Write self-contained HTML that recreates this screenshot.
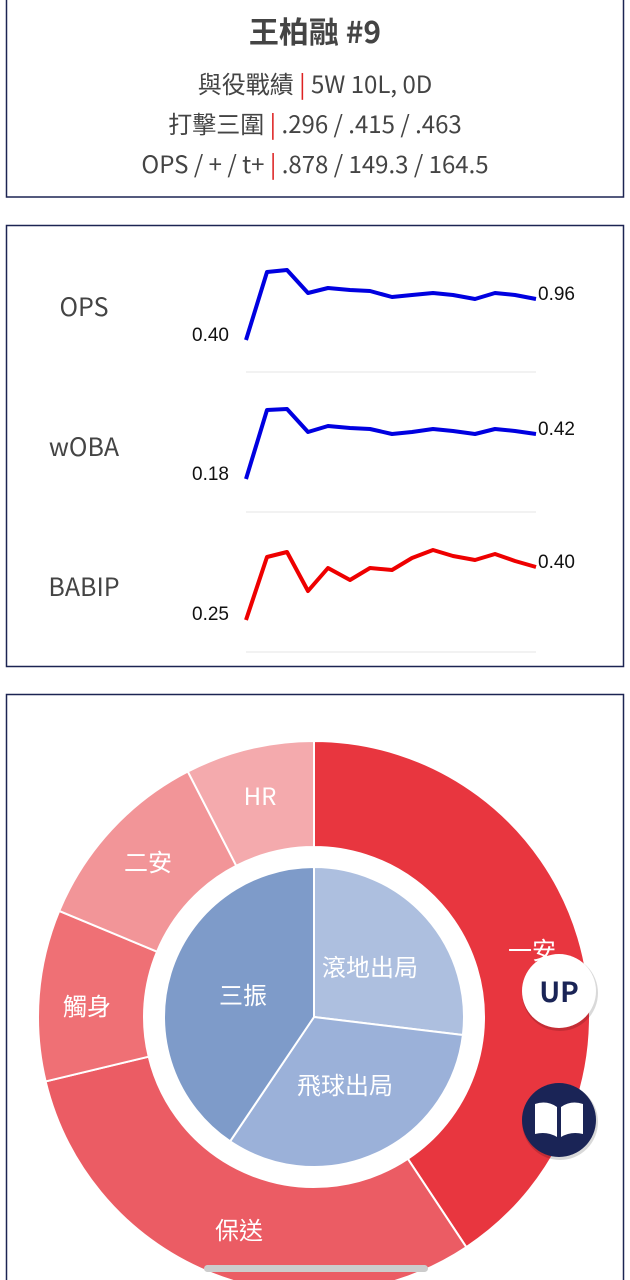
<!DOCTYPE html>
<html><head><meta charset="utf-8"><style>
body{margin:0;width:630px;height:1280px;overflow:hidden;background:#fff;font-family:"Noto Sans CJK TC","Liberation Sans",sans-serif;}
svg{position:absolute;left:0;top:0}
</style></head><body>
<svg width="630" height="1280" viewBox="0 0 630 1280" xmlns="http://www.w3.org/2000/svg" font-family="Noto Sans CJK TC, Liberation Sans, sans-serif">
<rect x="6.5" y="-2" width="617" height="199" fill="#fff" stroke="#1c2452" stroke-width="1.5"/>
<text x="315" y="43" text-anchor="middle" font-size="30" font-weight="bold" fill="#444">王柏融 #9</text>
<g font-size="24" fill="#444" text-anchor="middle">
<text x="315" y="93">與役戰績 <tspan fill="#d22">|</tspan> 5W 10L, 0D</text>
<text x="315" y="133">打擊三圍 <tspan fill="#d22">|</tspan> .296 / .415 / .463</text>
<text x="315" y="173">OPS / + / t+ <tspan fill="#d22">|</tspan> .878 / 149.3 / 164.5</text>
</g>
<rect x="6.5" y="225.5" width="617" height="441" fill="#fff" stroke="#1c2452" stroke-width="1.5"/>
<g font-size="25" fill="#444" text-anchor="middle">
<text x="84" y="316">OPS</text><text x="84" y="456">wOBA</text><text x="84" y="596">BABIP</text>
</g>
<g stroke="#eee" stroke-width="1.5"><line x1="246" y1="372" x2="536" y2="372"/><line x1="246" y1="512" x2="536" y2="512"/><line x1="246" y1="652" x2="536" y2="652"/></g>
<g fill="none" stroke-width="4" stroke-linejoin="round">
<polyline stroke="#0000e0" points="246,340 267,272 287,270 308,293 328,288 350,290 370,291 392,297 412,295 433,293 453,295 475,299 495,293 515,295 536,299"/>
<polyline stroke="#0000e0" points="246,479 267,410 287,409 308,432 328,426 350,428 370,429 392,434 412,432 433,429 453,431 475,434 495,429 515,431 536,434"/>
<polyline stroke="#ee0000" points="246,620 267,557 287,552 308,591 328,568 350,580 370,568 392,570 412,558 433,550 453,556 475,560 495,554 515,561 536,567"/>
</g>
<g font-size="19" fill="#111" font-family="Liberation Sans, sans-serif">
<text x="229" y="341" text-anchor="end">0.40</text><text x="538" y="300">0.96</text>
<text x="229" y="480" text-anchor="end">0.18</text><text x="538" y="435">0.42</text>
<text x="229" y="620" text-anchor="end">0.25</text><text x="538" y="568">0.40</text>
</g>
<rect x="6.5" y="694.5" width="617" height="600" fill="#fff" stroke="#1c2452" stroke-width="1.5"/>
<g id="donut" stroke="#fff" stroke-width="2"></g>
<g font-size="24" fill="#fff" text-anchor="middle">
<text x="260" y="805">HR</text><text x="148" y="871">二安</text><text x="87" y="1015">觸身</text>
<text x="239" y="1239">保送</text><text x="532" y="959">一安</text>
<text x="370" y="976">滾地出局</text><text x="243" y="1004">三振</text><text x="345" y="1094">飛球出局</text>
</g>
<circle cx="560" cy="993" r="38" fill="#000" opacity="0.15"/>
<circle cx="559" cy="991" r="37" fill="#fff"/>
<text x="559" y="1002" text-anchor="middle" font-size="28" font-weight="bold" fill="#1a2456">UP</text>
<circle cx="560" cy="1122" r="38" fill="#000" opacity="0.15"/>
<circle cx="559" cy="1120" r="37" fill="#1a2456"/>
<path d="M535 1104 Q547 1100 557 1107 L557 1137 Q547 1131 535 1134 Z M561 1107 Q571 1100 583 1104 L583 1134 Q571 1131 561 1137 Z" fill="#fff"/>
<rect x="204" y="1265" width="224" height="7" rx="3.5" fill="#ccc"/>
</svg>
<script>
var cx=314,cy=1017;
function pt(r,a){a=a*Math.PI/180;return [cx+r*Math.sin(a),cy-r*Math.cos(a)];}
function ring(r0,r1,a0,a1,c){var p0=pt(r1,a0),p1=pt(r1,a1),p2=pt(r0,a1),p3=pt(r0,a0),l=(a1-a0)>180?1:0;
var d=r0>0?`M${p0}A${r1},${r1} 0 ${l} 1 ${p1}L${p2}A${r0},${r0} 0 ${l} 0 ${p3}Z`:`M${cx},${cy}L${p0}A${r1},${r1} 0 ${l} 1 ${p1}Z`;
return `<path d="${d}" fill="${c}"/>`;}
var h='';
[[0,146.5,'#e8363f'],[146.5,256.5,'#eb5c64'],[256.5,292.6,'#ef7075'],[292.6,332.8,'#f29598'],[332.8,360,'#f4aaad']].forEach(s=>h+=ring(170,276,s[0],s[1],s[2]));
[[0,96.9,'#adbfdf'],[96.9,214,'#9bb1d9'],[214,360,'#7e9bc9']].forEach(s=>h+=ring(0,150,s[0],s[1],s[2]));
document.getElementById('donut').innerHTML=h;
</script>
</body></html>
